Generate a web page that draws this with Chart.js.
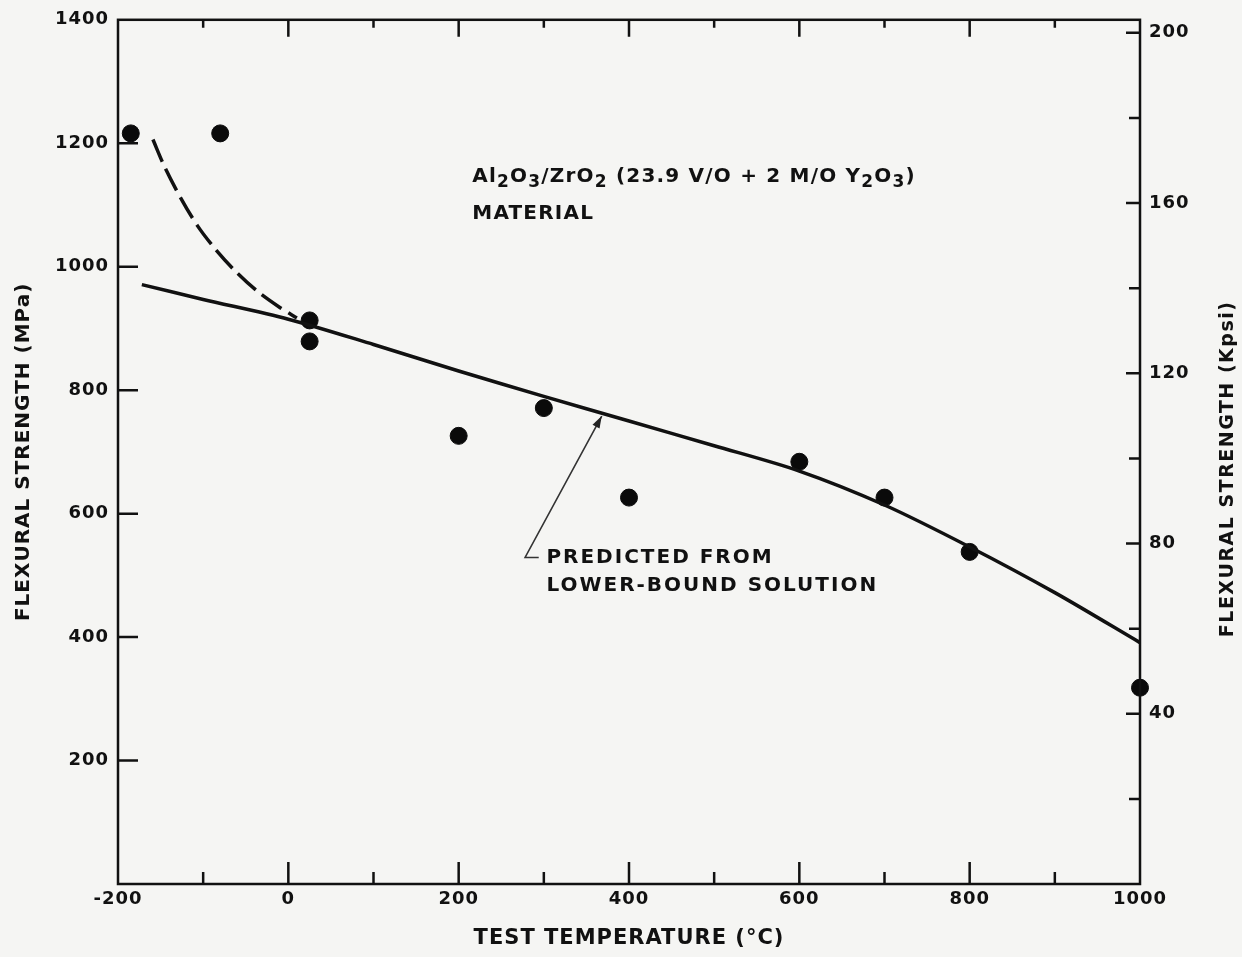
<!DOCTYPE html>
<html>
<head>
<meta charset="utf-8">
<script src="https://cdn.jsdelivr.net/npm/chart.js@4.4.1/dist/chart.umd.min.js"></script>
<style>
  html, body { margin: 0; padding: 0; background: #f5f5f3; }
  #wrap { width: 1242px; height: 957px; position: relative; }
</style>
</head>
<body>
<div id="wrap"><canvas id="c"></canvas></div>
<script>
// ---- data ----
const measuredTemp = [-185, -80, 25, 25, 200, 300, 400, 600, 700, 800, 1000];
const measuredMPa  = [1216, 1216, 913, 879, 726, 771, 626, 684, 626, 538, 318];

const predictedTemp = [-172, -100, 0, 100, 200, 300, 400, 500, 600, 700, 800, 900, 1000];
const predictedMPa  = [971, 947, 915, 874, 831, 790, 750, 710, 669, 614, 546, 472, 391];

const dashedTemp = [-159, -145, -127, -107, -86, -63, -37, -10, 10];
const dashedMPa  = [1206, 1161, 1113, 1067, 1029, 994, 961, 934, 917];

const xTickLabels   = [-200, 0, 200, 400, 600, 800, 1000];
const xMinorTicks   = [-100, 0, 100, 200, 300, 400, 500, 600, 700, 800, 900];
const leftTickLabels  = [200, 400, 600, 800, 1000, 1200, 1400];
const rightTickLabels = [40, 80, 120, 160, 200];
const rightMinorTicks = [20, 40, 60, 80, 100, 120, 140, 160, 180, 200];
const MPA_PER_KSI = 6.895;

const materialText = [['Al', 0], ['2', 1], ['O', 0], ['3', 1], ['/ZrO', 0], ['2', 1],
                      [' (23.9 V/O + 2 M/O Y', 0], ['2', 1], ['O', 0], ['3', 1], [')', 0]];
const materialLine2 = 'MATERIAL';
const predictedNote = ['PREDICTED FROM', 'LOWER-BOUND SOLUTION'];
const rightTitle = 'FLEXURAL STRENGTH (Kpsi)';

// annotation anchors in data units
const materialAnchor = { x: 216, y: 1146, y2: 1085 };
const noteAnchor = { x: 303, y: 529, y2: 483 };
const arrowTail = { x: 278, y: 529 };
const arrowStubEnd = { x: 294 };
const arrowHead = { x: 368, y: 758 };

const FONT = "'DejaVu Sans', 'Liberation Sans', sans-serif";
Chart.defaults.font.family = FONT;
Chart.defaults.color = '#111';

const toXY = (xs, ys) => xs.map((v, i) => ({ x: v, y: ys[i] }));
const plain = v => String(v);

const decor = {
  id: 'decor',
  beforeDraw(chart) {
    chart.ctx.letterSpacing = '1px';
  },
  afterDraw(chart) {
    const { ctx, chartArea: a, scales } = chart;
    const x = scales.x, y = scales.y, y2 = scales.y2;
    ctx.save();
    ctx.strokeStyle = '#111';
    ctx.fillStyle = '#111';
    ctx.lineWidth = 2.5;
    ctx.strokeRect(a.left, a.top, a.right - a.left, a.bottom - a.top);
    ctx.beginPath();
    xMinorTicks.forEach(v => {
      const px = x.getPixelForValue(v);
      const major = v % 200 === 0;
      ctx.moveTo(px, a.bottom); ctx.lineTo(px, a.bottom - (major ? 22 : 12));
      ctx.moveTo(px, a.top); ctx.lineTo(px, a.top + (major ? 17 : 8));
    });
    leftTickLabels.forEach(v => {
      if (v >= 1400) return;
      const py = y.getPixelForValue(v);
      ctx.moveTo(a.left, py); ctx.lineTo(a.left + 20, py);
    });
    rightMinorTicks.forEach(v => {
      const py = y2.getPixelForValue(v);
      ctx.moveTo(a.right, py); ctx.lineTo(a.right - (v % 40 === 0 ? 14 : 11), py);
    });
    ctx.stroke();

    // right title, reading bottom to top
    ctx.save();
    ctx.letterSpacing = '1.5px';
    ctx.font = 'bold 19px ' + FONT;
    ctx.textAlign = 'center';
    ctx.textBaseline = 'middle';
    ctx.translate(1228, (a.top + a.bottom) / 2 + 17);
    ctx.rotate(-Math.PI / 2);
    ctx.fillText(rightTitle, 0, 0);
    ctx.restore();

    // material label with subscripts
    ctx.letterSpacing = '1.2px';
    ctx.textBaseline = 'middle';
    ctx.textAlign = 'left';
    let cx = x.getPixelForValue(materialAnchor.x);
    const cy = y.getPixelForValue(materialAnchor.y);
    materialText.forEach(([t, sub]) => {
      ctx.font = (sub ? 'bold 17px ' : 'bold 20px ') + FONT;
      ctx.fillText(t, cx, cy + (sub ? 6 : 0));
      cx += ctx.measureText(t).width;
    });
    ctx.font = 'bold 20px ' + FONT;
    ctx.fillText(materialLine2, x.getPixelForValue(materialAnchor.x), y.getPixelForValue(materialAnchor.y2));

    // predicted note
    ctx.letterSpacing = '2px';
    ctx.font = 'bold 20px ' + FONT;
    ctx.fillText(predictedNote[0], x.getPixelForValue(noteAnchor.x), y.getPixelForValue(noteAnchor.y));
    ctx.fillText(predictedNote[1], x.getPixelForValue(noteAnchor.x), y.getPixelForValue(noteAnchor.y2));

    // arrow
    const tx = x.getPixelForValue(arrowTail.x), ty = y.getPixelForValue(arrowTail.y);
    const sx = x.getPixelForValue(arrowStubEnd.x);
    const hx = x.getPixelForValue(arrowHead.x), hy = y.getPixelForValue(arrowHead.y);
    ctx.lineWidth = 1.6;
    ctx.strokeStyle = '#333';
    ctx.beginPath();
    ctx.moveTo(sx, ty); ctx.lineTo(tx, ty); ctx.lineTo(hx, hy);
    ctx.stroke();
    const ang = Math.atan2(hy - ty, hx - tx);
    ctx.beginPath();
    ctx.moveTo(hx, hy);
    ctx.lineTo(hx - 12 * Math.cos(ang) + 4 * Math.sin(ang), hy - 12 * Math.sin(ang) - 4 * Math.cos(ang));
    ctx.lineTo(hx - 12 * Math.cos(ang) - 4 * Math.sin(ang), hy - 12 * Math.sin(ang) + 4 * Math.cos(ang));
    ctx.closePath();
    ctx.fillStyle = '#222';
    ctx.fill();
    ctx.restore();
  }
};

new Chart(document.getElementById('c'), {
  type: 'scatter',
  data: {
    datasets: [
      {
        label: 'Predicted',
        data: toXY(predictedTemp, predictedMPa),
        showLine: true,
        borderColor: '#111',
        borderWidth: 3.5,
        pointRadius: 0,
        tension: 0.3,
        yAxisID: 'y'
      },
      {
        label: 'Dashed',
        data: toXY(dashedTemp, dashedMPa),
        showLine: true,
        borderColor: '#111',
        borderWidth: 3.5,
        borderDash: [24, 8],
        pointRadius: 0,
        tension: 0.3,
        yAxisID: 'y'
      },
      {
        label: 'Measured',
        data: toXY(measuredTemp, measuredMPa),
        showLine: false,
        backgroundColor: '#0a0a0a',
        borderColor: '#0a0a0a',
        pointRadius: 8.5,
        pointHoverRadius: 8.5,
        clip: false,
        yAxisID: 'y'
      }
    ]
  },
  options: {
    responsive: true,
    maintainAspectRatio: false,
    animation: false,
    events: [],
    layout: { padding: { top: 18, left: 0, right: 0, bottom: 0 } },
    plugins: { legend: { display: false }, tooltip: { enabled: false } },
    scales: {
      x: {
        type: 'linear',
        min: -200, max: 1000,
        afterBuildTicks: s => { s.ticks = xTickLabels.map(v => ({ value: v })); },
        afterFit: s => { s.height = 73; },
        grid: { display: false, drawTicks: false },
        border: { display: false },
        ticks: { padding: 5, font: { size: 18, weight: 'bold' }, color: '#111', maxRotation: 0, callback: plain },
        title: { display: true, text: 'TEST TEMPERATURE (°C)', font: { size: 21, weight: 'bold' }, color: '#111', padding: { top: 0, bottom: 6 } }
      },
      y: {
        type: 'linear', position: 'left',
        min: 0, max: 1400,
        afterBuildTicks: s => { s.ticks = leftTickLabels.map(v => ({ value: v })); },
        afterFit: s => { s.width = 118; },
        grid: { display: false, drawTicks: false },
        border: { display: false },
        ticks: { padding: 9, font: { size: 18, weight: 'bold' }, color: '#111', callback: plain },
        title: { display: true, text: 'FLEXURAL STRENGTH (MPa)', font: { size: 20, weight: 'bold' }, color: '#111', padding: { top: 12, bottom: 0 } }
      },
      y2: {
        type: 'linear', position: 'right',
        min: 0, max: 1400 / MPA_PER_KSI,
        afterBuildTicks: s => { s.ticks = rightTickLabels.map(v => ({ value: v })); },
        afterFit: s => { s.width = 102; },
        grid: { display: false, drawTicks: false },
        border: { display: false },
        ticks: { padding: 9, font: { size: 18, weight: 'bold' }, color: '#111', callback: plain },
        title: { display: false }
      }
    }
  },
  plugins: [decor]
});
</script>
</body>
</html>
